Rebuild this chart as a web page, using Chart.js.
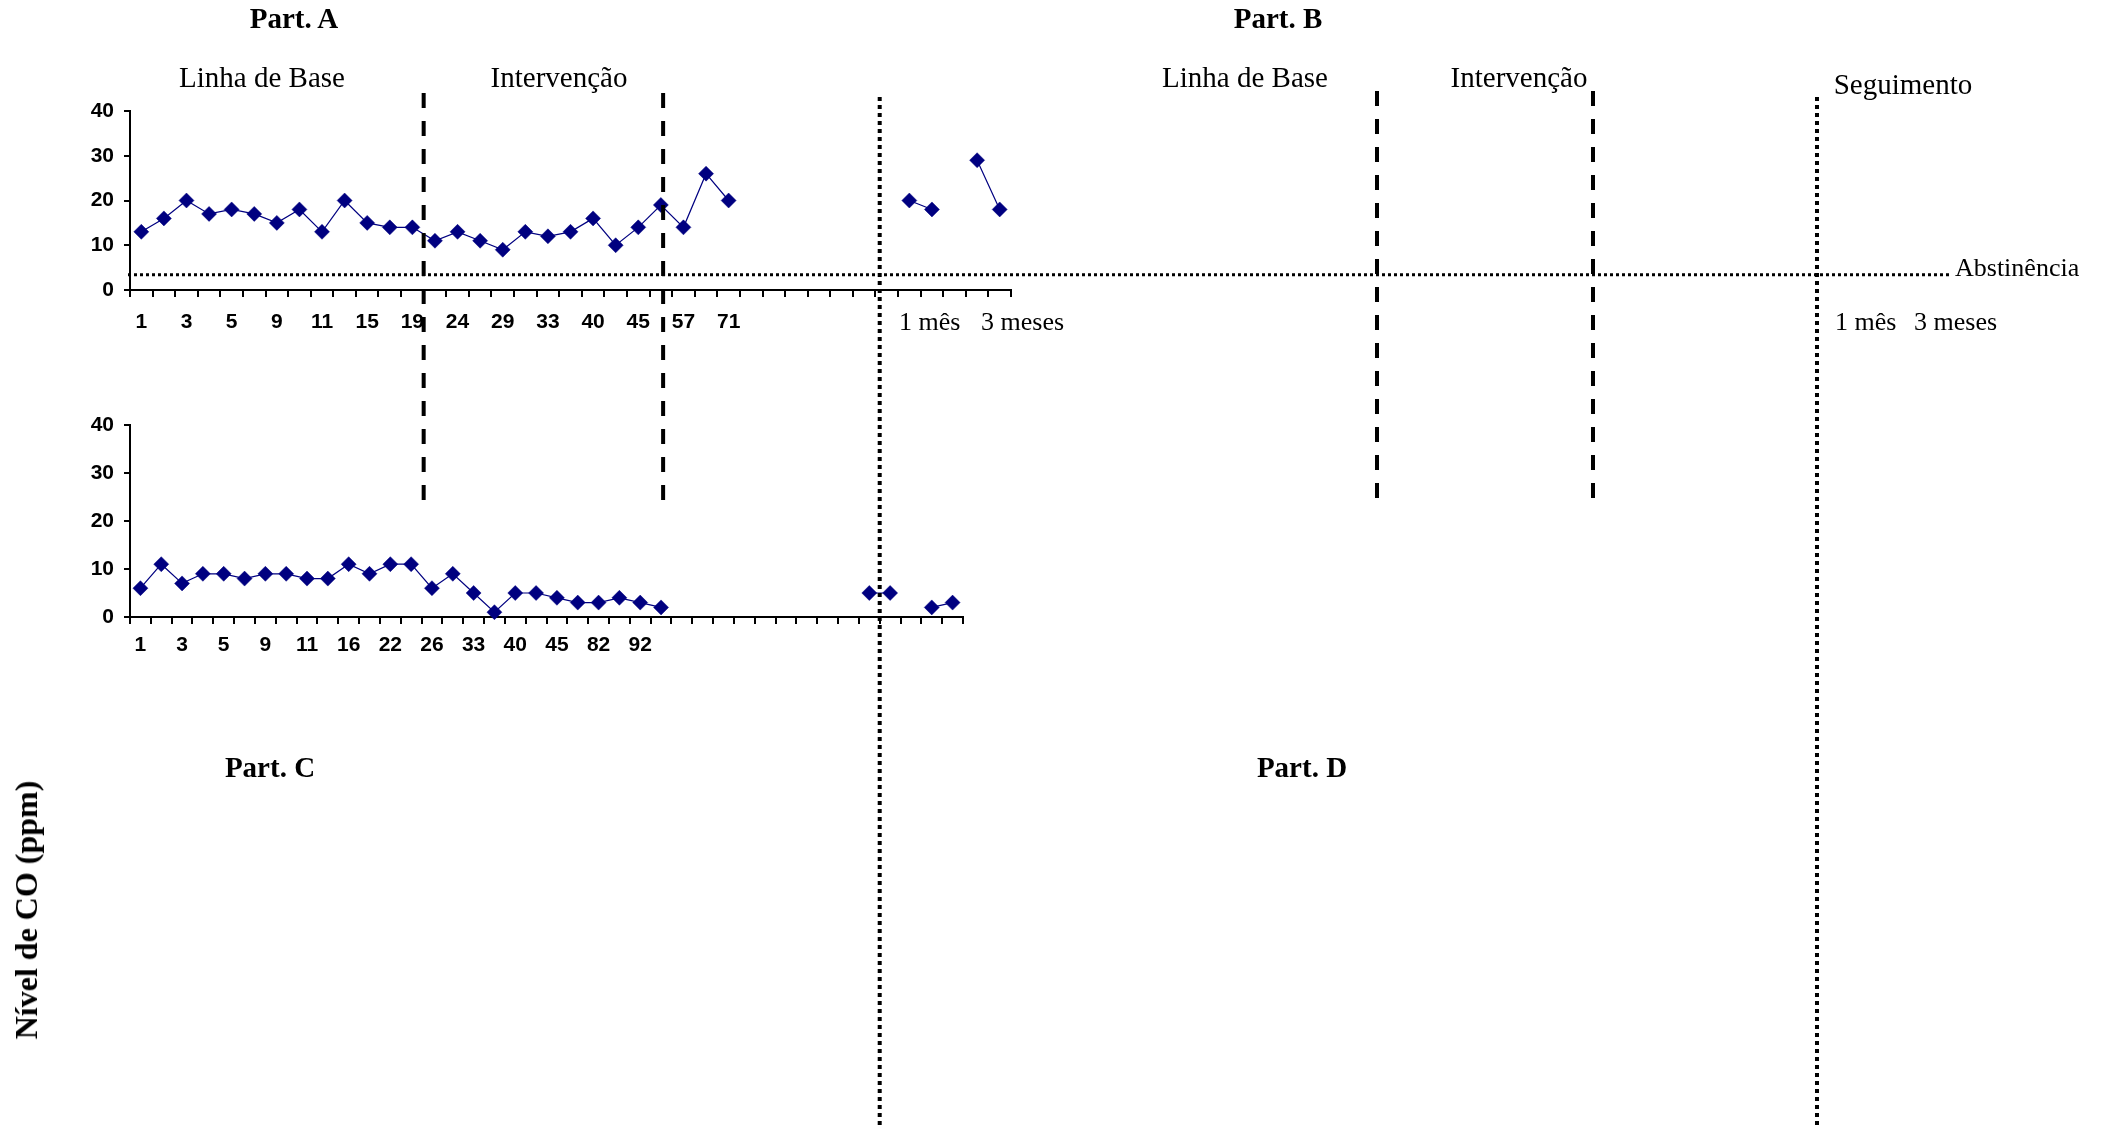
<!DOCTYPE html>
<html>
<head>
<meta charset="utf-8">
<script src="https://cdn.jsdelivr.net/npm/chart.js@4.4.1/dist/chart.umd.min.js"></script>
<style>
  body { margin: 0; background: #fff; }
  #wrap { position: relative; width: 2104px; height: 1131px; overflow: hidden; }
  canvas { position: absolute; left: 0; top: 0; }
  .lbl { position: absolute; font-family: "Liberation Serif", "Times New Roman", serif; color: #000; white-space: nowrap; line-height: 1; }
  .c { transform: translateX(-50%); }
  .b { font-weight: bold; }
</style>
</head>
<body>
<div id="wrap">
  <canvas id="chartA" width="2104" height="1131"></canvas>
  <canvas id="chartC" width="2104" height="1131"></canvas>

  <div class="lbl b c" style="left:294px;top:4px;font-size:29px;">Part. A</div>
  <div class="lbl b c" style="left:1278px;top:4px;font-size:29px;">Part. B</div>
  <div class="lbl c" style="left:262px;top:63px;font-size:29px;">Linha de Base</div>
  <div class="lbl c" style="left:559px;top:63px;font-size:29px;">Intervenção</div>
  <div class="lbl c" style="left:1245px;top:63px;font-size:29px;">Linha de Base</div>
  <div class="lbl c" style="left:1519px;top:63px;font-size:29px;">Intervenção</div>
  <div class="lbl c" style="left:1903px;top:70px;font-size:29px;">Seguimento</div>
  <div class="lbl" style="left:1955px;top:255px;font-size:26px;">Abstinência</div>
  <div class="lbl" style="left:899px;top:309px;font-size:26px;">1 mês</div>
  <div class="lbl" style="left:981px;top:309px;font-size:26px;">3 meses</div>
  <div class="lbl" style="left:1835px;top:309px;font-size:26px;">1 mês</div>
  <div class="lbl" style="left:1914px;top:309px;font-size:26px;">3 meses</div>
  <div class="lbl b c" style="left:270px;top:753px;font-size:29px;">Part. C</div>
  <div class="lbl b c" style="left:1302px;top:753px;font-size:29px;">Part. D</div>
  <div class="lbl b" style="left:26px;top:910px;font-size:32px;transform:translate(-50%,-50%) rotate(-90deg);">Nível de CO (ppm)</div>
</div>

<script>
// ---------- DATA ----------
// Part. A: 27 sessions, blank slots, then follow-up (1 mês / 3 meses)
const partAValues = [13, 16, 20, 17, 18, 17, 15, 18, 13, 20, 15, 14, 14, 11, 13, 11, 9, 13, 12, 13,
  16, 10, 14, 19, 14, 26, 20,
  null, null, null, null, null, null, null,
  20, 18, null, 29, 18];
const partATicks = ["1", "3", "5", "9", "11", "15", "19", "24", "29", "33", "40", "45", "57", "71"];

// Part. C: 26 sessions, blank slots, then follow-up
const partCValues = [6, 11, 7, 9, 9, 8, 9, 9, 8, 8, 11, 9, 11, 11, 6, 9, 5, 1, 5, 5,
  4, 3, 3, 4, 3, 2,
  null, null, null, null, null, null, null, null, null,
  5, 5, null, 2, 3];
const partCTicks = ["1", "3", "5", "9", "11", "16", "22", "26", "33", "40", "45", "82", "92"];

const yTicks = [0, 10, 20, 30, 40];
const abstinenceLevel = 3.4;

// phase changes, in category positions (0-based) of Part. A axis
const phaseChangesA = [12.5, 23.1];
// follow-up start, in category positions of Part. C axis
const followUpC = 35.5;

// Part. B (empty panel) decoration x positions
const panelBDashed = [1377, 1593];
const panelBDotted = 1817;

// ---------- HELPERS ----------
function buildLabels(n, ticks) {
  const labels = Array(n).fill("");
  ticks.forEach((t, i) => { labels[i * 2] = t; });
  return labels;
}

const tickFont = { family: '"Liberation Sans", Arial, sans-serif', size: 21, weight: "bold" };
const NAVY = "#000080";

function chartConfig(values, ticks, pad, xPad) {
  return {
    type: "line",
    data: {
      labels: buildLabels(values.length, ticks),
      datasets: [{
        data: values,
        borderColor: NAVY,
        borderWidth: 1.2,
        pointStyle: "rectRot",
        pointRadius: 7.5,
        pointBackgroundColor: NAVY,
        pointBorderColor: NAVY,
        pointBorderWidth: 0.5,
        spanGaps: false,
        tension: 0,
        clip: false
      }]
    },
    options: {
      responsive: false,
      animation: false,
      events: [],
      layout: { padding: pad },
      plugins: { legend: { display: false }, tooltip: { enabled: false } },
      scales: {
        x: {
          type: "category",
          offset: true,
          grid: { display: true, drawOnChartArea: false, drawTicks: true, tickLength: 7, offset: true, color: "#000", lineWidth: 2 },
          border: { display: true, color: "#000", width: 2 },
          ticks: { autoSkip: false, maxRotation: 0, minRotation: 0, padding: xPad, color: "#000", font: tickFont },
          afterFit: s => { s.height = 50; }
        },
        y: {
          min: yTicks[0],
          max: yTicks[yTicks.length - 1],
          grid: { drawOnChartArea: false, drawTicks: true, tickLength: 6, color: "#000", lineWidth: 2 },
          border: { display: true, color: "#000", width: 2 },
          ticks: { stepSize: 10, padding: 10, color: "#000", font: tickFont },
          afterFit: s => { s.width = 60; }
        }
      }
    }
  };
}

// ---------- CHARTS ----------
const chartA = new Chart(document.getElementById("chartA"),
  chartConfig(partAValues, partATicks, { left: 70, right: 1093, top: 111, bottom: 791 }, 13));

function vline(ctx, x, y0, y1) {
  ctx.beginPath();
  ctx.moveTo(x, y0);
  ctx.lineTo(x, y1);
  ctx.stroke();
}

// phase lines, abstinence line and follow-up separators
const overlayPlugin = {
  id: "overlay",
  afterDraw(chart) {
    const ctx = chart.ctx;
    const ax = chartA.scales.x, ay = chartA.scales.y, cx = chart.scales.x;
    ctx.save();
    ctx.strokeStyle = "#000";

    // abstinence (dotted, horizontal)
    ctx.lineWidth = 3;
    ctx.setLineDash([3, 3]);
    const ya = ay.getPixelForValue(abstinenceLevel);
    ctx.beginPath();
    ctx.moveTo(ax.left - 2, ya);
    ctx.lineTo(1952, ya);
    ctx.stroke();

    // phase changes (dashed)
    ctx.lineWidth = 4;
    ctx.setLineDash([15, 13]);
    phaseChangesA.forEach(p => vline(ctx, ax.getPixelForValue(p), 93, 503));
    panelBDashed.forEach(x => vline(ctx, x, 91, 499));

    // follow-up (dotted, vertical)
    ctx.lineWidth = 4;
    ctx.setLineDash([4, 4]);
    vline(ctx, cx.getPixelForValue(followUpC), 97, 1128);
    vline(ctx, panelBDotted, 97, 1128);

    ctx.restore();
  }
};

const cfgC = chartConfig(partCValues, partCTicks, { left: 70, right: 1141, top: 425, bottom: 464 }, 9);
cfgC.plugins = [overlayPlugin];
const chartC = new Chart(document.getElementById("chartC"), cfgC);
</script>
</body>
</html>
